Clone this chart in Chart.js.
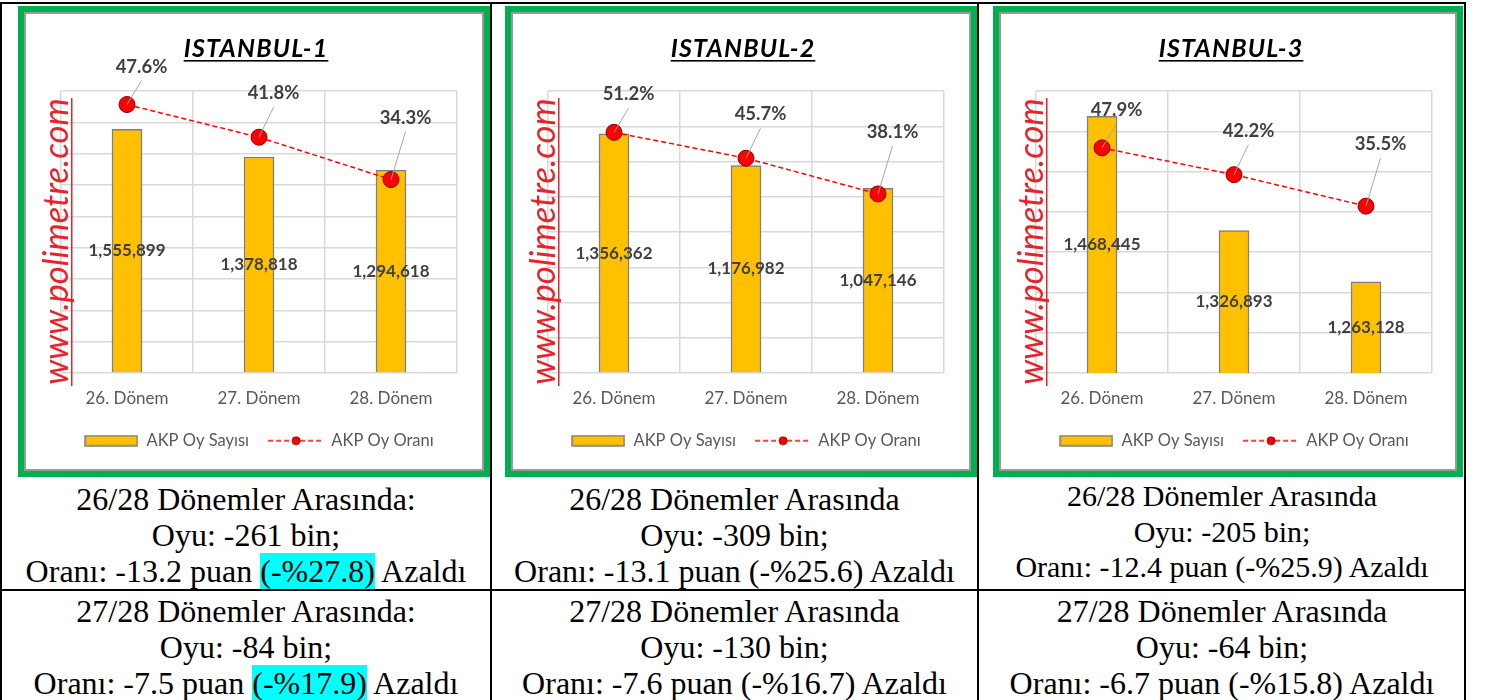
<!DOCTYPE html>
<html lang="tr">
<head>
<meta charset="utf-8">
<title>AKP İstanbul 26-28. Dönem</title>
<script src="https://cdn.jsdelivr.net/npm/chart.js@4.4.1/dist/chart.umd.min.js"></script>
<style>
  html, body { margin: 0; padding: 0; background: #fff; }
  body { width: 1487px; height: 700px; position: relative; overflow: hidden; font-family: "Liberation Serif", "Times New Roman", serif; }
  .cizgi { position: absolute; background: #000; }
  .cerceve { position: absolute; top: 6px; height: 471px; box-sizing: border-box; border: 6px solid #00B050; }
  .ic { position: absolute; left: 0; top: 0; right: 0; bottom: 0; border: 2px solid #999; }
  .ic canvas { position: absolute; left: 0; top: 0; }
  .metin { position: absolute; text-align: center; font-size: 32px; line-height: 36px; color: #000; white-space: nowrap; }
  .kucuk { font-size: 30px; line-height: 35.5px; }
  .vurgu { background: #00FFFF; }
</style>
</head>
<body>

<div class="cizgi" style="left:0;top:2px;width:1466px;height:2px"></div>
<div class="cizgi" style="left:0;top:2px;width:2px;height:698px"></div>
<div class="cizgi" style="left:490px;top:2px;width:2px;height:698px"></div>
<div class="cizgi" style="left:977px;top:2px;width:2px;height:698px"></div>
<div class="cizgi" style="left:1464px;top:2px;width:2px;height:698px"></div>
<div class="cizgi" style="left:0;top:589px;width:1466px;height:2px"></div>

<div class="cerceve" style="left:18px;width:472px"><div class="ic"><canvas id="ist1" width="456" height="455"></canvas></div></div>
<div class="cerceve" style="left:505px;width:472px"><div class="ic"><canvas id="ist2" width="456" height="455"></canvas></div></div>
<div class="cerceve" style="left:993px;width:470px"><div class="ic"><canvas id="ist3" width="454" height="455"></canvas></div></div>

<div class="metin" style="left:2px;width:488px;top:481px">26/28 Dönemler Arasında:<br>Oyu: -261 bin;<br>Oranı: -13.2 puan <span class="vurgu">(-%27.8)</span> Azaldı</div>
<div class="metin" style="left:2px;width:488px;top:593px">27/28 Dönemler Arasında:<br>Oyu: -84 bin;<br>Oranı: -7.5 puan <span class="vurgu">(-%17.9)</span> Azaldı</div>
<div class="metin" style="left:492px;width:485px;top:481px">26/28 Dönemler Arasında<br>Oyu: -309 bin;<br>Oranı: -13.1 puan (-%25.6) Azaldı</div>
<div class="metin" style="left:492px;width:485px;top:593px">27/28 Dönemler Arasında<br>Oyu: -130 bin;<br>Oranı: -7.6 puan (-%16.7) Azaldı</div>
<div class="metin kucuk" style="left:979px;width:486px;top:478px">26/28 Dönemler Arasında<br>Oyu: -205 bin;<br>Oranı: -12.4 puan (-%25.9) Azaldı</div>
<div class="metin" style="left:979px;width:486px;top:593px">27/28 Dönemler Arasında<br>Oyu: -64 bin;<br>Oranı: -6.7 puan (-%15.8) Azaldı</div>

<script>
// veriler
const donemler = ['26. Dönem', '27. Dönem', '28. Dönem'];

const oySayisi1 = [1555899, 1378818, 1294618];
const oyOrani1 = [0.476, 0.418, 0.343];
const oySayisi2 = [1356362, 1176982, 1047146];
const oyOrani2 = [0.512, 0.457, 0.381];
const oySayisi3 = [1468445, 1326893, 1263128];
const oyOrani3 = [0.479, 0.422, 0.355];

// eksen sınırları: [min, max, adım]
const oyEkseni1 = [0, 1800000, 200000];
const oyEkseni2 = [0, 1600000, 200000];
const oyEkseni3 = [1150000, 1500000, 50000];
const oranEkseniMax = [0.5, 0.6, 0.6];

const FONT = 'Lato, "Open Sans", sans-serif';
const IZGARA = '#D9D9D9';
// yüzde etiketlerinin noktaya göre dikey kayması (Excel'de elle taşınmış)
const etiketKaymasi = [-38, -44, -62];

function lejantKutusu() {
  const c = document.createElement('canvas');
  c.width = 54; c.height = 12;
  const x = c.getContext('2d');
  x.fillStyle = '#FFC000';
  x.fillRect(1, 1, 52, 10);
  x.strokeStyle = '#7F7F7F';
  x.lineWidth = 1.5;
  x.strokeRect(1, 1, 52, 10);
  return c;
}

function lejantCizgisi() {
  const c = document.createElement('canvas');
  c.width = 56; c.height = 10;
  const x = c.getContext('2d');
  x.strokeStyle = '#FF0000';
  x.lineWidth = 1.5;
  x.setLineDash([5, 3]);
  x.beginPath(); x.moveTo(0, 5); x.lineTo(56, 5); x.stroke();
  x.setLineDash([]);
  x.beginPath(); x.arc(28, 5, 4, 0, Math.PI * 2);
  x.fillStyle = '#FF0000'; x.fill();
  x.strokeStyle = '#8B0000'; x.lineWidth = 1; x.stroke();
  return c;
}

const kutuResmi = lejantKutusu();
const cizgiResmi = lejantCizgisi();

const etiketler = {
  id: 'etiketler',
  afterDatasetsDraw(chart) {
    const ctx = chart.ctx;
    const alt = chart.chartArea.bottom;
    const cubuklar = chart.getDatasetMeta(0).data;
    const oy = chart.data.datasets[0].data;
    ctx.save();
    ctx.fillStyle = '#404040';
    ctx.textAlign = 'center';
    ctx.textBaseline = 'middle';
    ctx.font = 'bold 17px ' + FONT;
    cubuklar.forEach((b, i) => {
      ctx.fillText(oy[i].toLocaleString('en-US'), b.x, (b.y + Math.min(b.base, alt)) / 2);
    });
    const noktalar = chart.getDatasetMeta(1).data;
    const oran = chart.data.datasets[1].data;
    noktalar.forEach((p, i) => {
      const lx = p.x + 14.5, ly = p.y + etiketKaymasi[i];
      ctx.strokeStyle = '#A6A6A6';
      ctx.lineWidth = 1;
      ctx.beginPath(); ctx.moveTo(lx, ly + 14); ctx.lineTo(p.x, p.y); ctx.stroke();
      ctx.font = 'bold 18.5px ' + FONT;
      ctx.fillText((oran[i] * 100).toFixed(1) + '%', lx, ly);
    });
    ctx.restore();
  },
  afterDraw(chart, args, opts) {
    const ctx = chart.ctx;
    const a = chart.chartArea;
    ctx.save();
    // başlık
    ctx.font = 'italic bold 25px ' + FONT;
    ctx.letterSpacing = '1.2px';
    ctx.fillStyle = '#000';
    ctx.textAlign = 'center';
    ctx.textBaseline = 'alphabetic';
    const cx = (a.left + a.right) / 2 - 3;
    const by = a.top - 34;
    ctx.fillText(opts.baslik, cx, by);
    const w = ctx.measureText(opts.baslik).width;
    ctx.fillRect(cx - w / 2, by + 3, w, 1.6);
    ctx.letterSpacing = '0px';
    // filigran
    const yazi = 'www.polimetre.com';
    ctx.font = 'italic 34px ' + FONT;
    const boy = 34 * 287 / ctx.measureText(yazi).width;
    ctx.font = 'italic ' + boy.toFixed(1) + 'px ' + FONT;
    ctx.fillStyle = '#E8232A';
    ctx.translate(a.left + 6.5, a.top + 150.5);
    ctx.rotate(-Math.PI / 2);
    ctx.fillText(yazi, 0, 0);
    ctx.restore();
    ctx.save();
    ctx.fillStyle = '#E8232A';
    ctx.fillRect(a.left + 10, a.top + 7, 1.5, a.bottom - a.top + 6);
    ctx.restore();
  }
};

function grafikKur(id, baslik, oy, oran, oyEkseni, oranMax) {
  const canvas = document.getElementById(id);
  return new Chart(canvas, {
    type: 'bar',
    data: {
      labels: donemler,
      datasets: [
        {
          type: 'bar', label: 'AKP Oy Sayısı', data: oy, yAxisID: 'y', order: 2,
          backgroundColor: '#FFC000', borderColor: '#7F7F7F', borderWidth: 1.5, barThickness: 30
        },
        {
          type: 'line', label: 'AKP Oy Oranı', data: oran, yAxisID: 'y1', order: 1,
          borderColor: '#FF0000', borderWidth: 1.5, borderDash: [5, 3], tension: 0,
          pointRadius: 8, pointBackgroundColor: '#FF0000', pointBorderColor: '#8B0000', pointBorderWidth: 1
        }
      ]
    },
    options: {
      responsive: false,
      animation: false,
      devicePixelRatio: 1,
      events: [],
      layout: { padding: { left: 35, right: canvas.width - 431, top: 77, bottom: 10 } },
      plugins: {
        tooltip: { enabled: false },
        etiketler: { baslik: baslik },
        legend: {
          position: 'bottom',
          labels: {
            usePointStyle: true,
            pointStyleWidth: 54,
            padding: 20,
            color: '#595959',
            font: { family: FONT, size: 16.5 },
            generateLabels: (ch) => ch.data.datasets.map((d, i) => ({
              text: d.label,
              pointStyle: i === 0 ? kutuResmi : cizgiResmi,
              fillStyle: 'transparent', strokeStyle: 'transparent', lineWidth: 0,
              fontColor: '#595959', hidden: false, datasetIndex: i
            }))
          }
        }
      },
      scales: {
        x: {
          grid: { offset: true, color: IZGARA, lineWidth: 1.5, drawTicks: false },
          border: { display: false },
          ticks: { color: '#595959', font: { family: FONT, size: 17 }, padding: 15 },
          afterFit(s) { s.height = 39.5; }
        },
        y: {
          position: 'left',
          min: oyEkseni[0], max: oyEkseni[1],
          ticks: { stepSize: oyEkseni[2], display: false },
          grid: { color: IZGARA, lineWidth: 1.5, drawTicks: false },
          border: { display: false },
          afterFit(s) { s.width = 0; }
        },
        y1: { display: false, position: 'right', min: 0, max: oranMax }
      }
    },
    plugins: [etiketler]
  });
}

grafikKur('ist1', 'ISTANBUL-1', oySayisi1, oyOrani1, oyEkseni1, oranEkseniMax[0]);
grafikKur('ist2', 'ISTANBUL-2', oySayisi2, oyOrani2, oyEkseni2, oranEkseniMax[1]);
grafikKur('ist3', 'ISTANBUL-3', oySayisi3, oyOrani3, oyEkseni3, oranEkseniMax[2]);
</script>
</body>
</html>
